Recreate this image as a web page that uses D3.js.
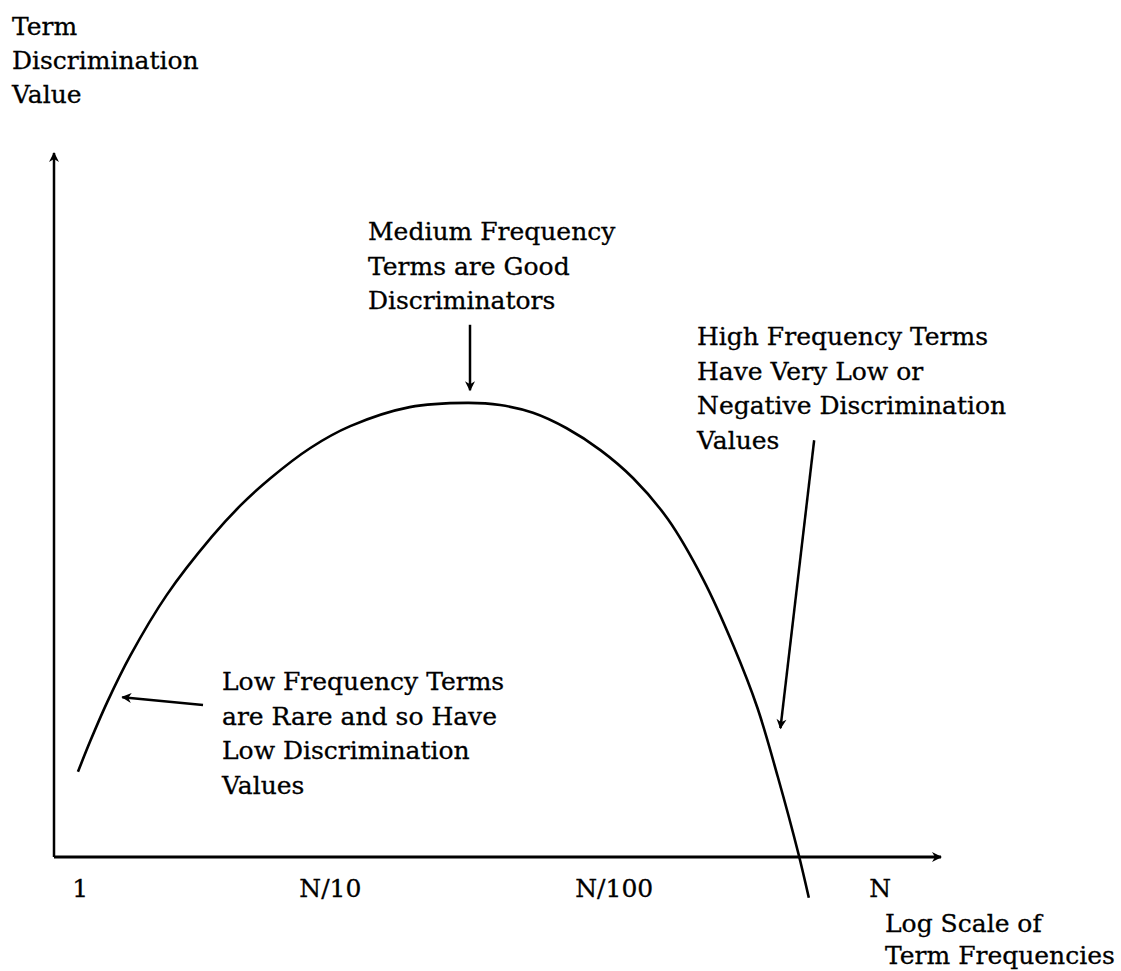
<!DOCTYPE html>
<html>
<head>
<meta charset="utf-8">
<script src="https://cdn.jsdelivr.net/npm/d3@7"></script>
<style>
  body { margin: 0; background: #fff; }
  svg text { font-family: "DejaVu Serif", serif; font-size: 25px; fill: #000; stroke: #000; stroke-width: 0.3px; }
</style>
</head>
<body>
<div id="chart"></div>
<script>
// x: position along the log frequency axis (0-100), y: discrimination value (0-100)
const tickLabels = ['1', 'N/10', 'N/100', 'N'];
const tickValues = [2.9, 31.1, 63.1, 93.1];

const curveX = [2.7, 4.1, 6.0, 8.6, 12.7, 17.8, 21.0, 24.4, 28.9, 33.4, 40.1, 46.6, 50.3,
    54.0, 57.8, 61.6, 65.3, 69.2, 73.2, 76.6, 79.3, 81.6, 83.9, 85.1];
const curveY = [12.1, 16.5, 22.0, 28.6, 37.2, 45.5, 49.9, 53.8, 58.1, 61.2, 63.9, 64.5, 64.2,
    63.1, 60.9, 57.8, 53.8, 48.0, 39.4, 30.0, 21.2, 11.4, 0.6, -5.8];

// annotation arrows: [x1, y1, x2, y2] in the same units
const arrows = [
    [16.8, 21.6, 7.7, 22.7],
    [46.9, 75.6, 46.9, 66.3],
    [85.7, 59.2, 81.9, 18.3]
];

const yTitle = ['Term', 'Discrimination', 'Value'];
const xTitle = ['Log Scale of', 'Term Frequencies'];
const notes = [
    {lines: ['Medium Frequency', 'Terms are Good', 'Discriminators'], x: 368, y: 240},
    {lines: ['High Frequency Terms', 'Have Very Low or', 'Negative Discrimination', 'Values'], x: 697, y: 345},
    {lines: ['Low Frequency Terms', 'are Rare and so Have', 'Low Discrimination', 'Values'], x: 222, y: 690}
];

const width = 1121, height = 971;
const margin = {left: 54, right: 941, top: 153, bottom: 857};

const svg = d3.select('#chart').append('svg')
    .attr('width', width)
    .attr('height', height);

svg.append('rect').attr('width', width).attr('height', height).attr('fill', '#fff');

const defs = svg.append('defs');
defs.append('marker')
    .attr('id', 'head')
    .attr('viewBox', '-10 -6 12 12')
    .attr('refX', 0)
    .attr('refY', 0)
    .attr('markerWidth', 12)
    .attr('markerHeight', 12)
    .attr('markerUnits', 'userSpaceOnUse')
    .attr('orient', 'auto')
    .append('path')
    .attr('d', 'M-9,-5 L1,0 L-9,5 L-6,0 Z')
    .attr('fill', '#000');

const xScale = d3.scaleLinear().domain([0, 100]).range([margin.left, margin.right]);
const yScale = d3.scaleLinear().domain([0, 100]).range([margin.bottom, margin.top]);

const xAxis = d3.axisBottom(xScale)
    .tickValues(tickValues)
    .tickFormat((d, i) => tickLabels[i])
    .tickSize(0)
    .tickPadding(22);

const xAxisGroup = svg.append('g')
    .attr('class', 'axis x-axis')
    .attr('transform', `translate(0, ${margin.bottom})`)
    .call(xAxis);
xAxisGroup.select('.domain').remove();
xAxisGroup
    .attr('font-family', null)
    .attr('font-size', null);
xAxisGroup.selectAll('text').attr('fill', null);

// axis lines with arrow heads
svg.append('line')
    .attr('x1', xScale(0)).attr('y1', yScale(0))
    .attr('x2', xScale(100)).attr('y2', yScale(0))
    .attr('stroke', '#000').attr('stroke-width', 3)
    .attr('marker-end', 'url(#head)');

svg.append('line')
    .attr('x1', xScale(0)).attr('y1', yScale(0))
    .attr('x2', xScale(0)).attr('y2', yScale(100))
    .attr('stroke', '#000').attr('stroke-width', 2.5)
    .attr('marker-end', 'url(#head)');

const line = d3.line()
    .x(i => xScale(curveX[i]))
    .y(i => yScale(curveY[i]))
    .curve(d3.curveCatmullRom.alpha(0.5));

svg.append('path')
    .datum(d3.range(curveX.length))
    .attr('d', line)
    .attr('fill', 'none')
    .attr('stroke', '#000')
    .attr('stroke-width', 2.6);

svg.selectAll('.note-arrow')
    .data(arrows)
    .enter()
    .append('line')
    .attr('class', 'note-arrow')
    .attr('x1', d => xScale(d[0]))
    .attr('y1', d => yScale(d[1]))
    .attr('x2', d => xScale(d[2]))
    .attr('y2', d => yScale(d[3]))
    .attr('stroke', '#000')
    .attr('stroke-width', 2.5)
    .attr('marker-end', 'url(#head)');

function block(lines, x, y, step) {
    const t = svg.append('text').attr('x', x).attr('y', y);
    lines.forEach((s, i) => {
        t.append('tspan').attr('x', x).attr('y', y + i * step).text(s);
    });
}

block(yTitle, 12, 35, 34);
block(xTitle, 885, 932, 32);
notes.forEach(n => block(n.lines, n.x, n.y, 34.5));
</script>
</body>
</html>
